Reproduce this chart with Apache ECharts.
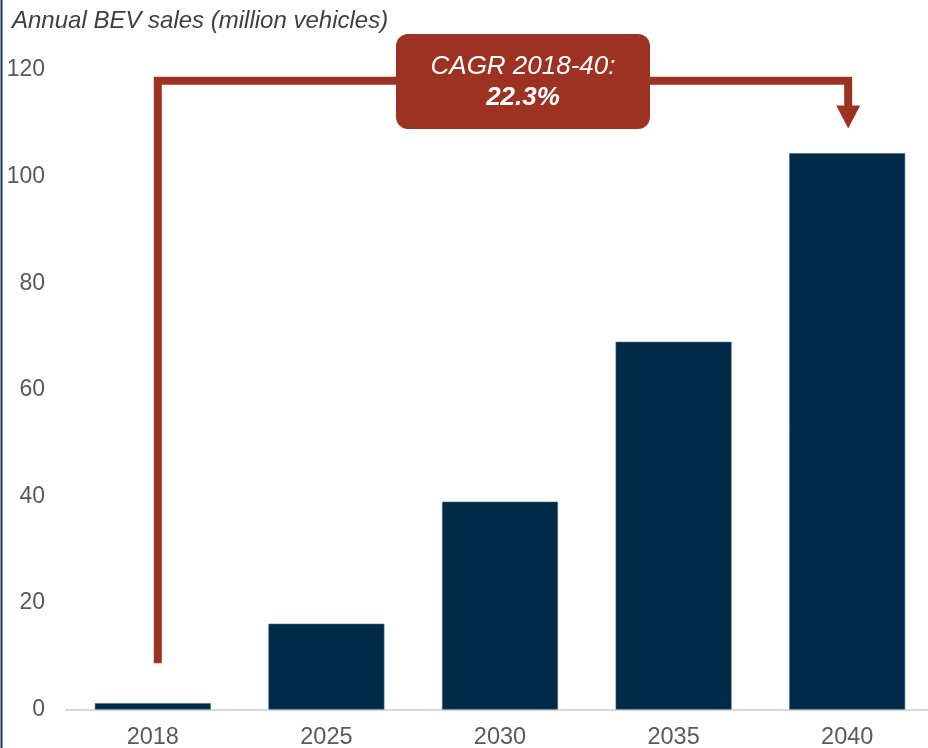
<!DOCTYPE html>
<html><head><meta charset="utf-8">
<script src="https://cdn.jsdelivr.net/npm/echarts@6/dist/echarts.min.js"></script>
<style>html,body{margin:0;padding:0;background:#fff}#c{width:928px;height:748px}</style>
</head><body><div id="c"></div>
<script>
const categories = ['2018', '2025', '2030', '2035', '2040'];
const sales = [1.2, 16.1, 39.0, 69.0, 104.4];
const yTicks = [0, 20, 40, 60, 80, 100, 120];
const titleText = 'Annual BEV sales (million vehicles)';
const cagrLine1 = 'CAGR 2018-40:';
const cagrLine2 = '22.3%';

const FONT = '"Liberation Sans", Arial, sans-serif';
const chart = echarts.init(document.getElementById('c'), null, {renderer: 'canvas'});
chart.setOption({
  animation: false,
  grid: {left: 66, width: 868, top: 70, height: 639.5, containLabel: false, outerBoundsMode: 'none'},
  xAxis: {
    type: 'category', data: categories,
    axisLine: {lineStyle: {color: '#D9D9D9', width: 2}},
    axisTick: {show: false},
    axisLabel: {color: '#595959', fontSize: 23.5, fontFamily: FONT, margin: 16}
  },
  yAxis: {
    type: 'value', min: yTicks[0], max: yTicks[yTicks.length - 1], interval: 20,
    splitLine: {show: false}, axisLine: {show: false}, axisTick: {show: false},
    axisLabel: {color: '#595959', fontSize: 23, fontFamily: FONT, margin: 21}
  },
  series: [{
    type: 'bar', data: sales, barWidth: '66.8%',
    itemStyle: {color: '#002A48', borderColor: '#4A6A85', borderWidth: 0.6}
  }]
});

const p0 = chart.convertToPixel({gridIndex: 0}, [0, 0]);
const p4 = chart.convertToPixel({gridIndex: 0}, [4, 0]);
const yTop = chart.convertToPixel({gridIndex: 0}, [0, 118])[1];
const yBottom = chart.convertToPixel({gridIndex: 0}, [0, 8.7])[1];
const yArrowTip = chart.convertToPixel({gridIndex: 0}, [0, 109])[1];
const xL = p0[0] + 5, xR = p4[0] + 1;
const red = '#9E3222';

chart.setOption({
  graphic: [
    {type: 'rect', shape: {x: 0.5, y: 0, width: 2, height: 748}, style: {fill: '#17365D'}},
    {type: 'text', left: 12, top: 9, style: {text: titleText, fill: '#404040', font: 'italic 24px ' + FONT}},
    {type: 'polyline', shape: {points: [[xL, yBottom], [xL, yTop], [xR, yTop], [xR, yArrowTip - 22]]},
      style: {stroke: red, lineWidth: 8, fill: null, lineJoin: 'miter', lineCap: 'butt'}},
    {type: 'polygon', shape: {points: [[xR - 12, yArrowTip - 23], [xR + 12, yArrowTip - 23], [xR, yArrowTip]]},
      style: {fill: red}},
    {type: 'rect', shape: {x: 396, y: 34, width: 254, height: 95, r: 12}, style: {fill: red}},
    {type: 'text', x: 523, y: 67, style: {text: cagrLine1, fill: '#fff', font: 'italic 26px ' + FONT, align: 'center', verticalAlign: 'middle'}},
    {type: 'text', x: 523, y: 98, style: {text: cagrLine2, fill: '#fff', font: 'italic bold 26px ' + FONT, align: 'center', verticalAlign: 'middle'}}
  ]
});
</script></body></html>
